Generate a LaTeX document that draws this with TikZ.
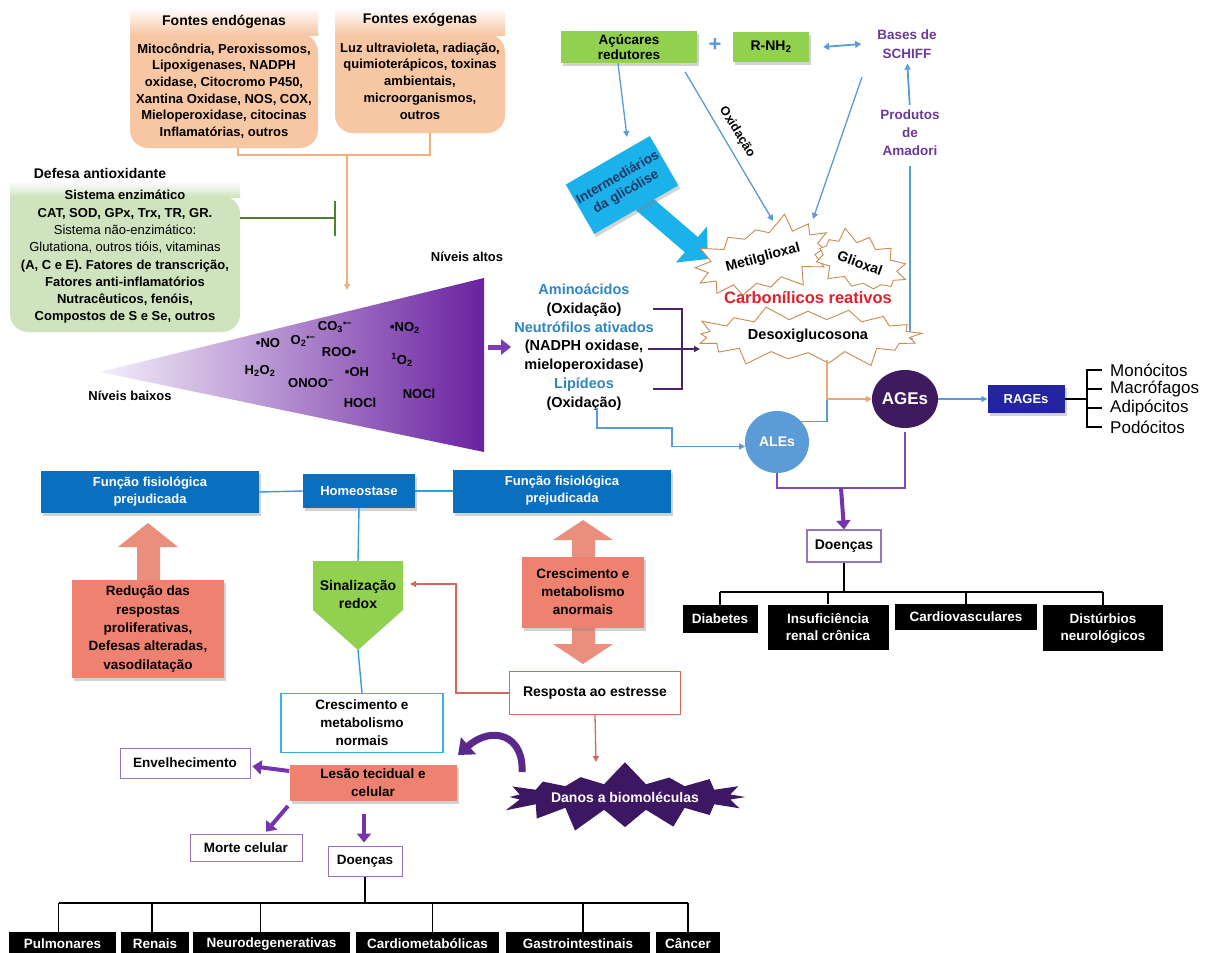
\documentclass[tikz,border=0pt]{standalone}
\usepackage{fontspec}
\setmainfont{Liberation Sans}
\usetikzlibrary{arrows.meta,shapes.symbols,shapes.geometric,shadows,calc}
\pgfdeclarelayer{bg}
\pgfsetlayers{bg,main}
\definecolor{peach}{HTML}{F7C6A3}
\definecolor{orline}{HTML}{F4AE7C}
\definecolor{defgreen}{HTML}{CFE3BF}
\definecolor{inhgreen}{HTML}{4F7F2F}
\definecolor{trilight}{HTML}{F4EFFA}
\definecolor{tridark}{HTML}{6A22A0}
\definecolor{arrpurp}{HTML}{7A3DB5}
\definecolor{brkpurp}{HTML}{4A2468}
\definecolor{tblue}{HTML}{2E86C1}
\definecolor{lblue}{HTML}{5B9BD5}
\definecolor{alesc}{HTML}{5A9BD8}
\definecolor{agesc}{HTML}{3F1A5E}
\definecolor{ragesc}{HTML}{2424A0}
\definecolor{gbox}{HTML}{92D050}
\definecolor{bblue}{HTML}{0B6FBF}
\definecolor{cline}{HTML}{2E9FD8}
\definecolor{cbord}{HTML}{35B3E3}
\definecolor{salm}{HTML}{EE8170}
\definecolor{salmarr}{HTML}{EA8E7E}
\definecolor{sline}{HTML}{D4695B}
\definecolor{starc}{HTML}{C98A4E}
\definecolor{redt}{HTML}{E0202A}
\definecolor{ptext}{HTML}{6B3A98}
\definecolor{danosc}{HTML}{3E1762}
\definecolor{curvc}{HTML}{5A2A8A}
\definecolor{bpurp}{HTML}{9575C2}
\definecolor{cyanb}{HTML}{1BB2EC}
\definecolor{cyant}{HTML}{1F3864}
\definecolor{thickp}{HTML}{7534AE}
\definecolor{linep}{HTML}{8048B8}
\newcommand\fz[2]{\fontsize{#1}{#2}\selectfont}
\tikzset{
 t13/.style={font=\bfseries\fz{13}{16.7}},
 hdr/.style={font=\bfseries\fz{14}{17}},
 shad/.style={drop shadow={opacity=0.35, shadow xshift=2pt, shadow yshift=-3pt}},
 bbox/.style={fill=bblue, text=white, font=\bfseries\fz{13}{17}, shad},
 gbx/.style={fill=gbox, font=\bfseries\fz{13.5}{15.5}, shad},
 pbox/.style={draw=bpurp, line width=1pt, fill=white, font=\bfseries\fz{13.5}{16}},
 kbox/.style={fill=black, text=white, font=\bfseries\fz{13.5}{17}},
 thin/.style={line width=1.3pt},
 tip/.style={-{Triangle[length=6pt,width=6pt]}},
 fat/.style={line width=4pt, thickp, -{Triangle[length=9pt,width=14pt]}},
 burst/.style={starburst, draw=starc, fill=white, line width=0.9pt},
 spec/.style={font=\bfseries\fz{13}{15}},
 tree/.style={line width=1.6pt},
}
\begin{document}
\begin{tikzpicture}[x=1pt,y=-1pt, every node/.style={align=center, inner sep=0pt}]
\useasboundingbox (0,0) rectangle (1216,953);
\begin{pgfonlayer}{bg}
\fill[white] (0,0) rectangle (1216,953);
\end{pgfonlayer}

% ---------- sources ----------
\fill[peach] (130,34) [rounded corners=18pt] -- (130,148) -- (318,148) -- (318,34) [sharp corners] -- cycle;
\shade[top color=white, bottom color=peach] (130,8) rectangle (318,35);
\node[hdr] (endoH) at (224,22) {Fontes endógenas};
\node[t13] (endo) at (224,91) {Mitocôndria, Peroxissomos,\\Lipoxigenases, NADPH\\oxidase, Citocromo P450,\\Xantina Oxidase, NOS, COX,\\Mieloperoxidase, citocinas\\Inflamatórias, outros};
\fill[peach] (335,34) [rounded corners=18pt] -- (335,133) -- (505,133) -- (505,34) [sharp corners] -- cycle;
\shade[top color=white, bottom color=peach] (335,8) rectangle (505,35);
\node[hdr] (exoH) at (420,20) {Fontes exógenas};
\node[t13] (exo) at (420,81) {Luz ultravioleta, radiação,\\quimioterápicos, toxinas\\ambientais,\\microorganismos,\\outros};
\coordinate (endoB) at (238,148);
\coordinate (exoB) at (430,133);
\coordinate (jn) at (347,155);
\coordinate (oTip) at (347,290);
\draw[orline, thin] (endoB) |- (jn) -| (exoB);
\draw[orline, thin, tip] (jn) -- (oTip);

% ---------- defense ----------
\node[hdr] (defH) at (100,173) {Defesa antioxidante};
\fill[defgreen] (10,196) [rounded corners=18pt] -- (10,332) -- (240,332) -- (240,196) [sharp corners] -- cycle;
\shade[top color=white, bottom color=defgreen] (10,181) rectangle (240,197);
\node[font=\bfseries\fz{13}{17.3}] (def) at (125,257) {Sistema enzimático\\CAT, SOD, GPx, Trx, TR, GR.\\{\mdseries Sistema não-enzimático:}\\{\mdseries Glutationa, outros tióis,  vitaminas}\\(A, C e E). Fatores de transcrição,\\Fatores anti-inflamatórios\\Nutracêuticos, fenóis,\\Compostos de S e Se, outros};
\coordinate (defE) at (240,218);
\coordinate (inhE) at (336,218);
\draw[inhgreen, line width=2pt, -{Bar[width=35pt,line width=2pt]}] (defE) -- (inhE);

% ---------- triangle ----------
\shade[left color=trilight, right color=tridark] (100,372) -- (484,278) -- (484,452) -- cycle;
\node[spec] (n1) at (335,327) {CO\textsubscript{3}\textsuperscript{•−}};
\node[spec] (n2) at (405,328) {•NO\textsubscript{2}};
\node[spec] (n3) at (268,343) {•NO};
\node[spec] (n4) at (303,341) {O\textsubscript{2}\textsuperscript{•−}};
\node[spec] (n5) at (339,352) {ROO•};
\node[spec] (n6) at (402,360) {\textsuperscript{1}O\textsubscript{2}};
\node[spec] (n7) at (260,371) {H\textsubscript{2}O\textsubscript{2}};
\node[spec] (n8) at (357,372) {•OH};
\node[spec] (n9) at (311,383) {ONOO\textsuperscript{−}};
\node[spec] (n10) at (360,403) {HOCl};
\node[spec] (n11) at (419,394) {NOCl};
\node[spec] (alt) at (467,257) {Níveis altos};
\node[spec] (bai) at (130,396) {Níveis baixos};

% ---------- middle block ----------
\node[font=\bfseries\fz{14.5}{18.8}] (mid) at (584,347) {\textcolor{tblue}{Aminoácidos}\\(Oxidação)\\\textcolor{tblue}{Neutrófilos ativados}\\(NADPH oxidase,\\mieloperoxidase)\\\textcolor{tblue}{Lipídeos}\\(Oxidação)};
\coordinate (triR) at (488,347);
\draw[line width=5pt, arrpurp, -{Triangle[length=10pt,width=15pt]}] (triR) -- ([xshift=-3pt]mid.west);
\coordinate (bk1) at (653,309);
\coordinate (bk2) at (653,389);
\coordinate (bkc) at (682,389);
\coordinate (bkm) at (648,349);
\coordinate (bkT) at (700,349);
\draw[brkpurp, line width=1.8pt] (bk1) -| (bkc) -- (bk2);
\draw[brkpurp, line width=1.8pt, tip] (bkm) -- (bkT);

% ---------- top right ----------
\node[gbx, minimum width=136, minimum height=32] (acu) at (629,47) {Açúcares\\redutores};
\node[text=lblue, font=\bfseries\fz{22}{22}] (plus) at (715,45) {+};
\node[gbx, minimum width=76, minimum height=30, font=\bfseries\fz{14}{16}] (rnh) at (771,47) {R-NH\textsubscript{2}};
\node[text=ptext, font=\bfseries\fz{13.5}{19}] (bases) at (907,44) {Bases de\\SCHIFF};
\node[text=ptext, font=\bfseries\fz{13.5}{18}] (amad) at (910,133) {Produtos\\de\\Amadori};
\draw[lblue, line width=1.8pt, {Triangle[length=6pt,width=7pt]}-{Triangle[length=6pt,width=7pt]}] ([xshift=14pt]rnh.east) -- ([xshift=-16pt]bases.west);
\draw[lblue, line width=1.8pt, tip, shorten <=5pt, shorten >=5pt] (amad.north) -- (bases.south);
\coordinate (amadE) at (910,344);
\draw[lblue, line width=1.8pt, tip, shorten <=10pt] (amad.south) -- (amadE);

% callout
\node[fill=cyanb, rotate=30, minimum width=97, minimum height=57, text=cyant, font=\bfseries\fz{13.5}{16.5}, shad] (cal) at (622,185) {Intermediários\\da glicólise};
\coordinate (calT) at (708,259);
\begin{pgfonlayer}{bg}
\draw[cyanb, line width=20pt, -{Triangle[length=22pt,width=46pt]}] (cal.center) -- (calT);
\end{pgfonlayer}
\coordinate (cTop) at (627,137);
\draw[lblue, thin, tip] ([xshift=-11pt]acu.south) -- (cTop);
\coordinate (oxE) at (773,221);
\draw[lblue, thin, tip, shorten <=10pt] ([xshift=51pt]acu.south) -- (oxE);
\node[font=\bfseries\fz{12.5}{14}, rotate=-58] (oxl) at (737,132) {Oxidação};
\coordinate (bS) at (862,77);
\coordinate (bE) at (813,219);
\draw[lblue, thin, tip] (bS) -- (bE);

% stars
\node[burst, rotate=15, font=\bfseries\fz{14}{16}, starburst points=14, starburst point height=18pt, random starburst=3, inner xsep=2pt, inner ysep=10pt] (metil) at (763,258) {Metilglioxal};
\node[burst, rotate=-20, font=\bfseries\fz{14}{16}, starburst points=12, starburst point height=14pt, random starburst=5, inner xsep=4pt, inner ysep=8pt] (glio) at (860,263) {Glioxal};
\node[burst, font=\bfseries\fz{14.5}{16}, starburst points=17, starburst point height=18pt, random starburst=9, inner xsep=12pt, inner ysep=5pt] (desox) at (808,336) {Desoxiglucosona};
\node[text=redt, font=\bfseries\fz{16.5}{18}] (carb) at (808,298) {Carbonílicos reativos};

% ALEs / AGEs
\node[ellipse, fill=alesc, minimum width=64, minimum height=62, text=white, font=\bfseries\fz{14}{16}] (ales) at (777,442) {ALEs};
\node[ellipse, fill=agesc, minimum width=66, minimum height=58, text=white, font=\bfseries\fz{17}{18}] (ages) at (905,399) {AGEs};
\coordinate (lipS) at (597,408);
\coordinate (lipC) at (672,428);
\draw[lblue, thin, tip] (lipS) |- (lipC) |- (ales.188);
\coordinate (dsB) at (827,360);
\coordinate (mj) at (827,399);
\draw[lblue, thin] (ales.40) -| (mj);
\draw[orline!80!brown, line width=1.6pt, tip] (dsB) |- (ages.west);

% RAGEs
\node[fill=ragesc, text=white, font=\bfseries\fz{13}{15}, minimum width=77, minimum height=28, shad] (rages) at (1026,399) {RAGEs};
\draw[lblue, thin, tip] (ages.east) -- (rages.west);
\node[anchor=west, font=\fz{17}{18}] (mono) at (1110,370) {Monócitos};
\node[anchor=west, font=\fz{17}{18}] (macro) at (1110,389) {Macrófagos};
\node[anchor=west, font=\fz{17}{18}] (adipo) at (1110,408) {Adipócitos};
\node[anchor=west, font=\fz{17}{18}] (podo) at (1110,427) {Podócitos};
\coordinate (rb) at (1087,399);
\draw[tree] (rages.east) -- (rb);
\draw[tree] ([xshift=-8pt]mono.west) -| ([xshift=-23pt]podo.west) -- ([xshift=-8pt]podo.west);
\draw[tree] ([xshift=-23pt]macro.west) -- ([xshift=-8pt]macro.west);
\draw[tree] ([xshift=-23pt]adipo.west) -- ([xshift=-8pt]adipo.west);

% diseases right
\node[draw=bpurp, line width=1.2pt, fill=white, font=\bfseries\fz{14}{16}, minimum width=74, minimum height=32] (doe1) at (844,546) {Doenças};
\coordinate (pj) at (841,488);
\draw[linep, line width=1.8pt, shorten <=4pt] (ages.south) |- (pj) -| (ales.south);
\draw[fat] (pj) -- (doe1.north);
\node[kbox, minimum width=75, minimum height=28] (dia) at (720,619) {Diabetes};
\node[kbox, minimum width=121, minimum height=45] (ins) at (828,627) {Insuficiência\\renal crônica};
\node[kbox, minimum width=142, minimum height=26] (car) at (966,617) {Cardiovasculares};
\node[kbox, minimum width=120, minimum height=46] (dis) at (1103,628) {Distúrbios\\neurológicos};
\coordinate (rt) at (844,592);
\draw[tree] (doe1.south) -- (rt);
\draw[tree] (dia.north |- rt) -- (dis.north |- rt);
\foreach \n in {dia,ins,car,dis} \draw[tree] (\n.north |- rt) -- (\n.north);

% ---------- bottom middle ----------
\node[bbox, minimum width=218, minimum height=42] (f1) at (150,492) {Função fisiológica\\prejudicada};
\node[bbox, minimum width=112, minimum height=34] (homeo) at (359,491) {Homeostase};
\node[bbox, minimum width=218, minimum height=43] (f2) at (562,491) {Função fisiológica\\prejudicada};
\draw[cline, line width=1.4pt] (f1.east) -- (homeo.west);
\draw[cline, line width=1.4pt] (homeo.east) -- (f2.west);

\coordinate (sigT) at (358,561);
\coordinate (sigB) at (358,650);
\coordinate (sigR) at (410,584);
\fill[gbox] (313,561) -- (403,561) -- (403,610) -- (358,650) -- (313,610) -- cycle;
\node[font=\bfseries\fz{14}{18}] (sig) at (358,594) {Sinalização\\redox};
\node[draw=cbord, line width=1.2pt, fill=white, font=\bfseries\fz{13.5}{18}, minimum width=162, minimum height=59] (cresN) at (362,723) {Crescimento e\\metabolismo\\normais};
\draw[cline, line width=1.4pt] (homeo.south) -- (sigT);
\draw[cline, line width=1.4pt] (sigB) -- (cresN.north);

\fill[salmarr] (148,523) -- (178,547) -- (160,547) -- (160,582) -- (137,582) -- (137,547) -- (118,547) -- cycle;
\node[fill=salm, minimum width=152, minimum height=98, font=\bfseries\fz{13.5}{18.3}, shad] (red) at (148,629) {Redução das\\respostas\\proliferativas,\\Defesas alteradas,\\vasodilatação};

\fill[salmarr] (583,520) -- (613,540) -- (595,540) -- (595,644) -- (613,644) -- (583,664) -- (553,644) -- (572,644) -- (572,540) -- (553,540) -- cycle;
\node[fill=salm, minimum width=122, minimum height=71, font=\bfseries\fz{13.5}{18}, shad] (anor) at (583,592) {Crescimento e\\metabolismo\\anormais};

\node[draw=sline, line width=1.2pt, fill=white, minimum width=171, minimum height=43, font=\bfseries\fz{14}{16}] (resp) at (595,693) {Resposta ao estresse};
\coordinate (c1) at (456,584);
\draw[sline, thin, tip] (resp.west) -| (c1) -- (sigR);
\coordinate (dT) at (596,762);

% danos
\node[starburst, fill=danosc, text=white, font=\bfseries\fz{14}{16}, starburst points=16, starburst point height=24pt, random starburst=7, inner xsep=2pt, inner ysep=4pt] (danos) at (625,797) {Danos a biomoléculas};
\draw[sline, thin, tip] (resp.south) -- (dT);
\coordinate (cvS) at (522,772);
\coordinate (cvE) at (458,755);
\draw[curvc, line width=7pt, -{Triangle[length=14pt,width=22pt]}] (cvS) .. controls (524,735) and (492,725) .. (cvE);

% lower left
\node[pbox, minimum width=130, minimum height=30] (env) at (185,763) {Envelhecimento};
\node[fill=salm, minimum width=167, minimum height=36, font=\bfseries\fz{13.5}{18}, shad] (les) at (373,783) {Lesão tecidual e\\celular};
\node[pbox, minimum width=112, minimum height=27] (morte) at (246,848) {Morte celular};
\node[pbox, minimum width=74, minimum height=30] (doe2) at (365,861) {Doenças};
\draw[fat, shorten >=2pt] ([yshift=12pt]les.west) -- ([yshift=-3pt]env.east);
\coordinate (mS) at (288,806);
\draw[fat, shorten >=3pt] (mS) -- ([xshift=18pt]morte.north);
\draw[fat, shorten <=13pt, shorten >=3pt] ([xshift=-9pt]les.south) -- ([xshift=-1pt]doe2.north);

\node[kbox, minimum width=107, minimum height=23, anchor=north] (pul) at (62.5,932) {Pulmonares};
\node[kbox, minimum width=68, minimum height=23, anchor=north] (ren) at (155,932) {Renais};
\node[kbox, minimum width=157, minimum height=23, anchor=north] (neu) at (271.5,932) {Neurodegenerativas};
\node[kbox, minimum width=143, minimum height=23, anchor=north] (cmb) at (427.5,932) {Cardiometabólicas};
\node[kbox, minimum width=144, minimum height=23, anchor=north] (gas) at (578,932) {Gastrointestinais};
\node[kbox, minimum width=64, minimum height=23, anchor=north] (can) at (688,932) {Câncer};
\coordinate (lt) at (365,903);
\draw[tree] (doe2.south) -- (lt);
\draw[tree] ([xshift=-4pt]pul.north |- lt) -- (can.north |- lt);
\draw[tree] ([xshift=-4pt]pul.north |- lt) -- ([xshift=-4pt]pul.north);
\draw[tree] ([xshift=-3pt]ren.north |- lt) -- ([xshift=-3pt]ren.north);
\draw[tree] ([xshift=-11pt]neu.north |- lt) -- ([xshift=-11pt]neu.north);
\draw[tree] ([xshift=5pt]cmb.north |- lt) -- ([xshift=5pt]cmb.north);
\draw[tree] ([xshift=5pt]gas.north |- lt) -- ([xshift=5pt]gas.north);
\draw[tree] (can.north |- lt) -- (can.north);
\end{tikzpicture}
\end{document}
